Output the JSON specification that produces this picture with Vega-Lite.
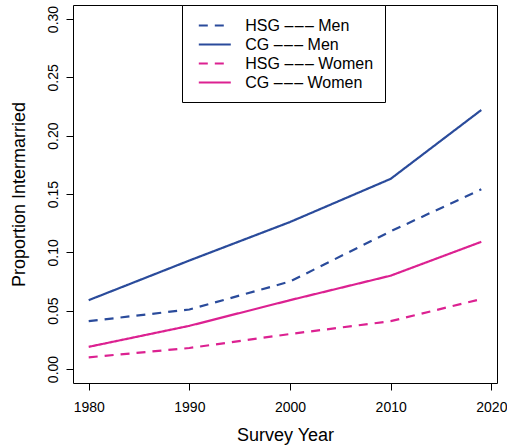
{
  "$schema": "https://vega.github.io/schema/vega-lite/v6.json",
  "width": 424,
  "height": 378,
  "autosize": {"type": "none"},
  "padding": {"left": 73, "top": 5, "right": 10, "bottom": 65},
  "background": "white",
  "config": {
    "font": "Liberation Sans",
    "view": {"stroke": "#000", "strokeWidth": 1},
    "axis": {"grid": false, "domain": false, "tickColor": "#000", "tickSize": 7, "labelColor": "#000", "titleColor": "#000", "labelFontWeight": "normal", "titleFontWeight": "normal"}
  },
  "data": {
    "values": [
      {"year": 1980, "value": 0.041, "series": "HSG \u2013\u200a\u2013\u200a\u2013 Men"},
      {"year": 1990, "value": 0.051, "series": "HSG \u2013\u200a\u2013\u200a\u2013 Men"},
      {"year": 2000, "value": 0.075, "series": "HSG \u2013\u200a\u2013\u200a\u2013 Men"},
      {"year": 2010, "value": 0.118, "series": "HSG \u2013\u200a\u2013\u200a\u2013 Men"},
      {"year": 2019, "value": 0.154, "series": "HSG \u2013\u200a\u2013\u200a\u2013 Men"},
      {"year": 1980, "value": 0.059, "series": "CG \u2013\u200a\u2013\u200a\u2013 Men"},
      {"year": 1990, "value": 0.093, "series": "CG \u2013\u200a\u2013\u200a\u2013 Men"},
      {"year": 2000, "value": 0.126, "series": "CG \u2013\u200a\u2013\u200a\u2013 Men"},
      {"year": 2010, "value": 0.163, "series": "CG \u2013\u200a\u2013\u200a\u2013 Men"},
      {"year": 2019, "value": 0.222, "series": "CG \u2013\u200a\u2013\u200a\u2013 Men"},
      {"year": 1980, "value": 0.010, "series": "HSG \u2013\u200a\u2013\u200a\u2013 Women"},
      {"year": 1990, "value": 0.018, "series": "HSG \u2013\u200a\u2013\u200a\u2013 Women"},
      {"year": 2000, "value": 0.030, "series": "HSG \u2013\u200a\u2013\u200a\u2013 Women"},
      {"year": 2010, "value": 0.041, "series": "HSG \u2013\u200a\u2013\u200a\u2013 Women"},
      {"year": 2019, "value": 0.060, "series": "HSG \u2013\u200a\u2013\u200a\u2013 Women"},
      {"year": 1980, "value": 0.019, "series": "CG \u2013\u200a\u2013\u200a\u2013 Women"},
      {"year": 1990, "value": 0.037, "series": "CG \u2013\u200a\u2013\u200a\u2013 Women"},
      {"year": 2000, "value": 0.059, "series": "CG \u2013\u200a\u2013\u200a\u2013 Women"},
      {"year": 2010, "value": 0.080, "series": "CG \u2013\u200a\u2013\u200a\u2013 Women"},
      {"year": 2019, "value": 0.109, "series": "CG \u2013\u200a\u2013\u200a\u2013 Women"}
    ]
  },
  "mark": {"type": "line", "strokeWidth": 2.2},
  "encoding": {
    "x": {
      "field": "year", "type": "quantitative",
      "scale": {"domain": [1978.44, 2020.56], "nice": false, "zero": false},
      "axis": {"values": [1980, 1990, 2000, 2010, 2020], "format": "d", "labelFontSize": 14, "labelPadding": 10, "title": "Survey Year", "titleFontSize": 18, "titleBaseline": "alphabetic", "titleX": 212, "titleY": 57}
    },
    "y": {
      "field": "value", "type": "quantitative",
      "scale": {"domain": [-0.012, 0.312], "nice": false, "zero": false},
      "axis": {"values": [0, 0.05, 0.1, 0.15, 0.2, 0.25, 0.3], "format": ".2f", "labelFontSize": 14, "labelAngle": -90, "labelAlign": "center", "labelBaseline": "alphabetic", "labelPadding": 9, "title": "Proportion Intermarried", "titleFontSize": 18, "titleAngle": -90, "titleAlign": "center", "titleBaseline": "alphabetic", "titleX": -49, "titleY": 189}
    },
    "color": {
      "field": "series", "type": "nominal",
      "scale": {"domain": ["HSG \u2013\u200a\u2013\u200a\u2013 Men", "CG \u2013\u200a\u2013\u200a\u2013 Men", "HSG \u2013\u200a\u2013\u200a\u2013 Women", "CG \u2013\u200a\u2013\u200a\u2013 Women"], "range": ["#2A4B9B", "#2A4B9B", "#DC2191", "#DC2191"]},
      "legend": {"title": null, "orient": "none", "legendX": 109, "legendY": 0, "symbolType": "M-2,0H2", "symbolSize": 256, "symbolStrokeWidth": 2.2, "symbolOffset": 12.3, "labelFontSize": 16, "labelColor": "#000", "labelOffset": 21, "rowPadding": 1, "padding": 11, "strokeColor": "#000", "fillColor": "white"}
    },
    "strokeDash": {
      "field": "series", "type": "nominal",
      "scale": {"domain": ["HSG \u2013\u200a\u2013\u200a\u2013 Men", "CG \u2013\u200a\u2013\u200a\u2013 Men", "HSG \u2013\u200a\u2013\u200a\u2013 Women", "CG \u2013\u200a\u2013\u200a\u2013 Women"], "range": [[9, 7], [1, 0], [9, 7], [1, 0]]},
      "legend": {"title": null}
    }
  }
}
